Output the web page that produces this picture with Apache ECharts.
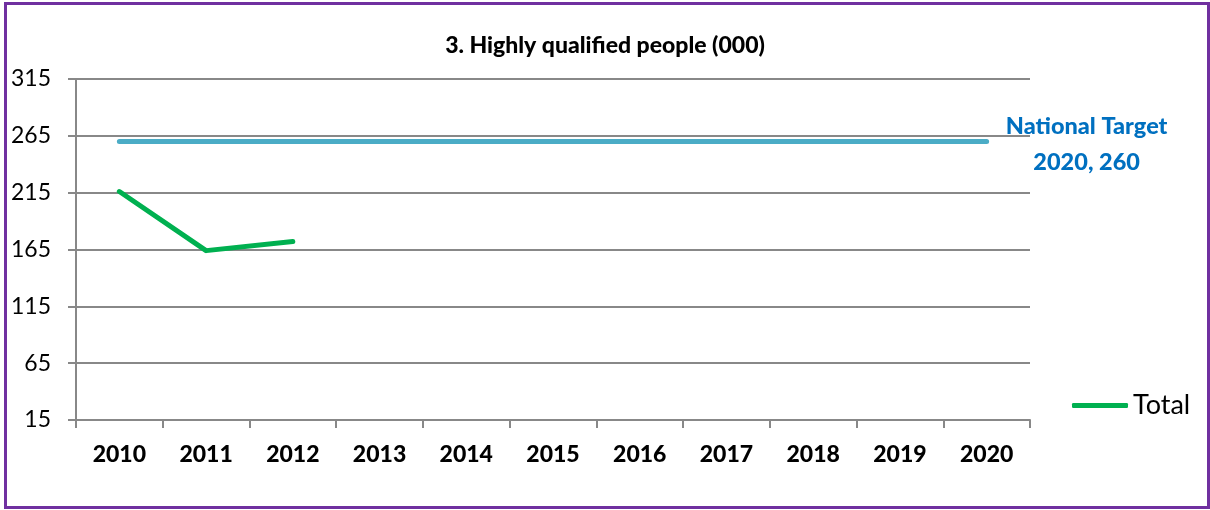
<!DOCTYPE html>
<html>
<head>
<meta charset="utf-8">
<script src="https://cdn.jsdelivr.net/npm/echarts@6/dist/echarts.min.js"></script>
<style>
  html, body { margin: 0; padding: 0; background: #fff; }
  #chart { position: absolute; left: 0; top: 0; width: 1210px; height: 510px; }
  #frame { position: absolute; left: 4px; top: 2px; width: 1206px; height: 507px;
           box-sizing: border-box; border: 3px solid #7030A0; pointer-events: none; }
</style>
</head>
<body>
<div id="chart"></div>
<div id="frame"></div>
<script>
const years = ['2010','2011','2012','2013','2014','2015','2016','2017','2018','2019','2020'];
const totalValues = [216, 164, 172, null, null, null, null, null, null, null, null];
const targetValues = [260, 260, 260, 260, 260, 260, 260, 260, 260, 260, 260];
const targetLabel = ['National Target', '2020, 260'];
const yMin = 15, yMax = 315, yStep = 50;

const FONT = 'Lato, "Open Sans", sans-serif';
const chart = echarts.init(document.getElementById('chart'));
chart.setOption({
  animation: false,
  textStyle: { fontFamily: FONT },
  title: {
    text: '3. Highly qualified people (000)',
    left: 'center', top: 29,
    textStyle: { fontFamily: FONT, fontSize: 23, fontWeight: 900, color: '#000' }
  },
  legend: {
    data: ['Total'],
    left: 1067, top: 387,
    icon: 'roundRect',
    itemWidth: 56, itemHeight: 5, itemGap: 10,
    textStyle: { fontFamily: FONT, fontSize: 27, color: '#000' }
  },
  grid: { left: 76, right: 180, top: 79, bottom: 90, containLabel: false },
  xAxis: {
    type: 'category',
    data: years,
    boundaryGap: true,
    axisLine: { lineStyle: { color: '#888', width: 2 } },
    axisTick: { show: true, length: 8, inside: false, lineStyle: { color: '#888', width: 2 } },
    axisLabel: { margin: 23, fontFamily: FONT, fontSize: 23, fontWeight: 900, color: '#000' }
  },
  yAxis: {
    type: 'value',
    min: yMin, max: yMax, interval: yStep,
    axisLine: { show: true, lineStyle: { color: '#888', width: 2 } },
    axisTick: { show: true, length: 8, lineStyle: { color: '#888', width: 2 } },
    axisLabel: { margin: 25, fontFamily: FONT, fontSize: 23, color: '#000' },
    splitLine: { show: true, lineStyle: { color: '#888', width: 2 } }
  },
  series: [
    {
      name: 'National Target',
      type: 'line',
      data: targetValues,
      symbol: 'none',
      lineStyle: { color: '#4BACC6', width: 5, cap: 'round' },
      itemStyle: { color: '#4BACC6' },
      endLabel: {
        show: true,
        formatter: targetLabel.join('\n'),
        distance: 100,
        align: 'center',
        verticalAlign: 'middle',
        offset: [0, 3],
        fontFamily: FONT, fontSize: 23.5, fontWeight: 900, color: '#0070C0',
        lineHeight: 36
      },
      z: 2
    },
    {
      name: 'Total',
      type: 'line',
      data: totalValues,
      symbol: 'none',
      connectNulls: false,
      lineStyle: { color: '#00B050', width: 5, cap: 'round', join: 'round' },
      itemStyle: { color: '#00B050' },
      z: 3
    }
  ]
});
</script>
</body>
</html>
